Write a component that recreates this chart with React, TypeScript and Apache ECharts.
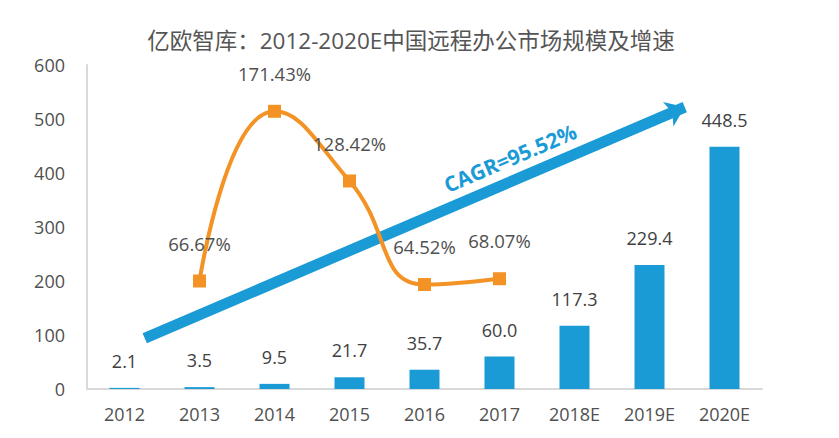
import React, { useEffect, useRef } from "react";
import * as echarts from "echarts";

const categories = ["2012", "2013", "2014", "2015", "2016", "2017", "2018E", "2019E", "2020E"];
const marketSize = [2.1, 3.5, 9.5, 21.7, 35.7, 60.0, 117.3, 229.4, 448.5];
const growthRate = [null, 66.67, 171.43, 128.42, 64.52, 68.07, null, null, null];
const yTicks = [0, 100, 200, 300, 400, 500, 600];
const arrowStart = [0.27, 94];
const arrowEnd = [7.47, 522];
const cagrLabel = "CAGR=95.52%";
const titleText = "亿欧智库：2012-2020E中国远程办公市场规模及增速";

const BLUE = "#1b9bd6";
const ORANGE = "#f39325";
const FONT = "'Open Sans', 'Noto Sans CJK SC', sans-serif";

export default function App() {
  const ref = useRef<HTMLDivElement>(null);
  useEffect(() => {
    if (!ref.current) return;
    const chart = echarts.init(ref.current, null, { renderer: "svg" });
    chart.setOption({
      animation: false,
      backgroundColor: "#ffffff",
      textStyle: { fontFamily: FONT },
      title: {
        text: titleText,
        left: 406,
        textAlign: "center",
        top: 24,
        textStyle: { fontSize: 22.5, fontWeight: "normal", color: "#555555", fontFamily: FONT },
      },
      grid: { left: 87, right: 77, top: 65, bottom: 49, containLabel: false },
      xAxis: [
        {
          type: "category",
          data: categories,
          axisLine: { onZero: false, lineStyle: { color: "#d9d9d9", width: 2 } },
          axisTick: { show: false },
          axisLabel: { fontSize: 18, color: "#505050", margin: 16, fontFamily: FONT },
        },
        { type: "value", min: -0.5, max: 8.5, show: false },
      ],
      yAxis: [
        {
          type: "value",
          min: yTicks[0],
          max: yTicks[yTicks.length - 1],
          interval: 100,
          axisLine: { show: true, onZero: false, lineStyle: { color: "#d9d9d9", width: 2 } },
          axisTick: { show: false },
          splitLine: { show: false },
          axisLabel: { fontSize: 18, color: "#505050", margin: 22, fontFamily: FONT },
        },
        { type: "value", min: 0, max: 200, show: false },
      ],
      series: [
        {
          type: "bar",
          data: marketSize,
          barWidth: 30,
          itemStyle: { color: BLUE },
          label: {
            show: true,
            position: "top",
            distance: 18,
            fontSize: 18,
            color: "#404040",
            fontFamily: FONT,
            formatter: (p: any) => p.value.toFixed(1),
          },
          z: 2,
        },
        {
          type: "line",
          xAxisIndex: 1,
          yAxisIndex: 0,
          data: [],
          silent: true,
          z: 3,
          markLine: {
            silent: true,
            z: 4,
            symbol: ["none", "arrow"],
            symbolSize: [20, 18],
            lineStyle: { color: BLUE, width: 11, type: "solid" },
            label: { show: false },
            data: [[{ coord: arrowStart }, { coord: arrowEnd }]],
          },
        },
        {
          type: "line",
          yAxisIndex: 1,
          data: growthRate,
          smooth: 0.5,
          connectNulls: false,
          symbol: "rect",
          symbolSize: 13,
          lineStyle: { color: ORANGE, width: 4 },
          itemStyle: { color: ORANGE },
          label: {
            show: true,
            position: "top",
            distance: 22,
            fontSize: 18.5,
            color: "#505050",
            fontFamily: FONT,
            formatter: (p: any) => `${p.value}%`,
          },
          z: 6,
        },
      ],
      graphic: [
        {
          type: "text",
          x: 510,
          y: 158,
          rotation: (23.1 * Math.PI) / 180,
          style: {
            text: cagrLabel,
            fill: BLUE,
            fontSize: 21,
            fontWeight: "bold",
            fontFamily: FONT,
            align: "center",
            verticalAlign: "middle",
          },
          z: 10,
        },
      ],
    });
    return () => chart.dispose();
  }, []);
  return <div ref={ref} style={{ width: 839, height: 438, position: "absolute", left: 0, top: 0 }} />;
}
